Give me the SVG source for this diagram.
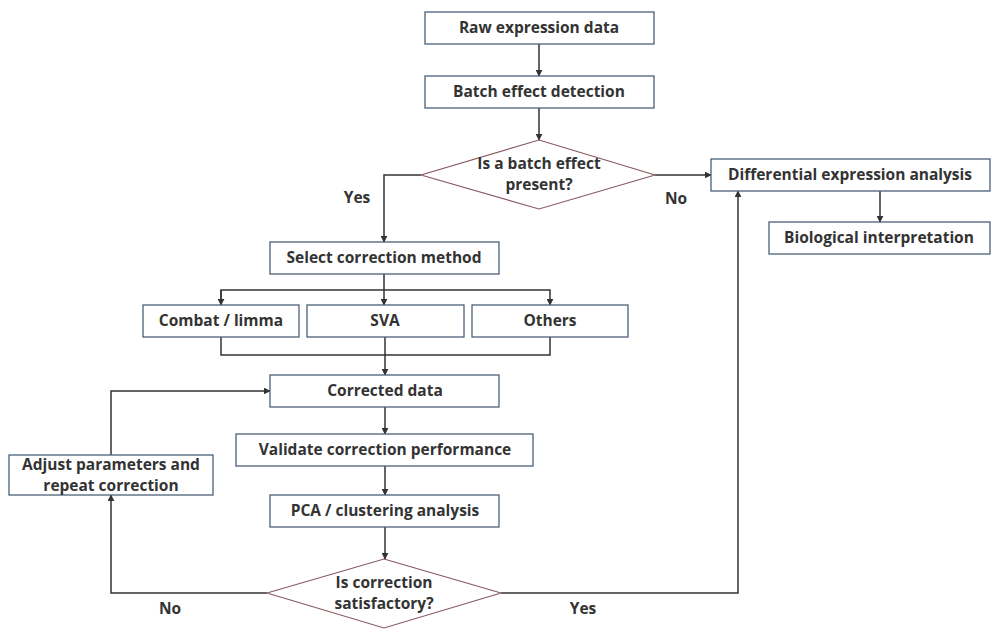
<svg xmlns="http://www.w3.org/2000/svg" width="1005" height="639" viewBox="0 0 1005 639">
<style>
.b{fill:#fff;stroke:#4a6079;stroke-width:1.3}
.d{fill:#fff;stroke:#8a5a60;stroke-width:1.1}
text{font-family:"Open Sans","Noto Sans",sans-serif;font-weight:bold;font-size:15.5px;fill:#333;text-anchor:middle}
.c path{fill:none;stroke:#333;stroke-width:1.5}
</style>
<defs><marker id="a" viewBox="0 0 10 10" refX="9" refY="5" markerWidth="7" markerHeight="7" orient="auto" markerUnits="userSpaceOnUse"><path d="M0,0L10,5L0,10z" fill="#333"/></marker></defs>
<rect width="1005" height="639" fill="#fff"/>
<g class="c">
<path d="M539,44V76" marker-end="url(#a)"/>
<path d="M539,108V140" marker-end="url(#a)"/>
<path d="M421,175H384V242" marker-end="url(#a)"/>
<path d="M655,175H711" marker-end="url(#a)"/>
<path d="M880,191V222" marker-end="url(#a)"/>
<path d="M384,274V290"/>
<path d="M221,305V290H550V305" marker-end="url(#a)"/>
<path d="M221,290V305" marker-end="url(#a)"/>
<path d="M384,290V305" marker-end="url(#a)"/>
<path d="M221,337V355H550V337"/>
<path d="M385,337V375" marker-end="url(#a)"/>
<path d="M385,407V434" marker-end="url(#a)"/>
<path d="M385,466V495" marker-end="url(#a)"/>
<path d="M385,527V559" marker-end="url(#a)"/>
<path d="M267,593H111V495" marker-end="url(#a)"/>
<path d="M111,455V391H270" marker-end="url(#a)"/>
<path d="M501,593H738V191" marker-end="url(#a)"/>
</g>
<text x="357" y="203">Yes</text>
<text x="676" y="204">No</text>
<text x="170" y="614">No</text>
<text x="583" y="614">Yes</text>
<g id="raw"><rect class="b" x="425" y="12" width="229" height="32"/><text x="539" y="33">Raw expression data</text></g>
<g id="detect"><rect class="b" x="425" y="76" width="229" height="32"/><text x="539" y="97">Batch effect detection</text></g>
<g id="q1"><path class="d" d="M539,140L655,175L539,209L421,175Z"/><text x="539" y="169">Is a batch effect</text><text x="539" y="190">present?</text></g>
<g id="diff"><rect class="b" x="711" y="159" width="279" height="32"/><text x="850" y="180">Differential expression analysis</text></g>
<g id="bio"><rect class="b" x="769" y="222" width="221" height="32"/><text x="879" y="243">Biological interpretation</text></g>
<g id="select"><rect class="b" x="270" y="242" width="229" height="32"/><text x="384" y="263">Select correction method</text></g>
<g id="combat"><rect class="b" x="143" y="305" width="156" height="32"/><text x="221" y="326">Combat / limma</text></g>
<g id="sva"><rect class="b" x="307" y="305" width="157" height="32"/><text x="385" y="326">SVA</text></g>
<g id="others"><rect class="b" x="472" y="305" width="156" height="32"/><text x="550" y="326">Others</text></g>
<g id="corrected"><rect class="b" x="270" y="375" width="229" height="32"/><text x="385" y="396">Corrected data</text></g>
<g id="validate"><rect class="b" x="236" y="434" width="297" height="32"/><text x="385" y="455">Validate correction performance</text></g>
<g id="pca"><rect class="b" x="270" y="495" width="229" height="32"/><text x="385" y="516">PCA / clustering analysis</text></g>
<g id="q2"><path class="d" d="M384,559L501,593L384,628L267,593Z"/><text x="384" y="588">Is correction</text><text x="384" y="609">satisfactory?</text></g>
<g id="adjust"><rect class="b" x="9" y="455" width="204" height="40"/><text x="111" y="470">Adjust parameters and</text><text x="111" y="491">repeat correction</text></g>
</svg>
